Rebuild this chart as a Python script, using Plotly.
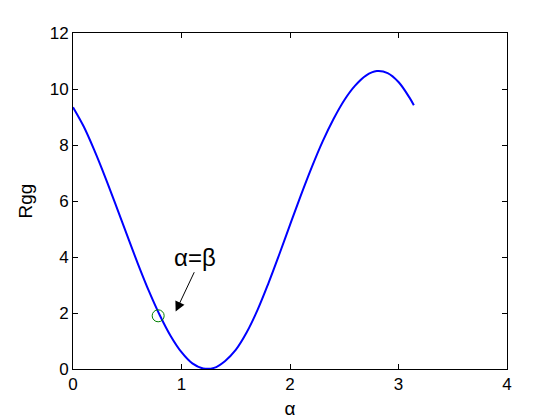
import plotly.graph_objects as go

# values
alpha = [0.0, 0.1, 0.2, 0.3, 0.4, 0.5, 0.6, 0.7, 0.8, 0.9, 1.0, 1.1, 1.2, 1.3,
         1.4, 1.5, 1.6, 1.7, 1.8, 1.9, 2.0, 2.1, 2.2, 2.3, 2.4, 2.5, 2.6, 2.7,
         2.8, 2.9, 3.0, 3.1, 3.1416]
rgg = [9.35, 8.65, 7.78, 6.82, 5.80, 4.76, 3.74, 2.78, 1.92, 1.18, 0.60, 0.20,
       0.02, 0.04, 0.28, 0.68, 1.30, 2.10, 3.05, 4.08, 5.15, 6.20, 7.20, 8.12,
       8.92, 9.60, 10.12, 10.48, 10.64, 10.57, 10.25, 9.70, 9.42]

# the alpha = beta point
mark_x = [0.785]
mark_y = [1.90]

font = "Liberation Sans, Arial, Helvetica, sans-serif"

fig = go.Figure()
fig.add_trace(go.Scatter(x=alpha, y=rgg, mode="lines",
                         line=dict(color="#0000ff", width=2, shape="spline"),
                         showlegend=False))
fig.add_trace(go.Scatter(x=mark_x, y=mark_y, mode="markers",
                         marker=dict(symbol="circle-open", size=12,
                                     color="#008000", line=dict(width=1)),
                         showlegend=False))

# arrow and label
fig.add_annotation(x=0.946, y=2.05, ax=1.124, ay=3.51, axref="x", ayref="y",
                   text="", showarrow=True, arrowhead=2, arrowsize=2,
                   arrowwidth=1, arrowcolor="black", standoff=0)
fig.add_annotation(x=1.12, y=4.0, text="α=β", showarrow=False,
                   font=dict(family=font, size=24, color="black"),
                   xanchor="center", yanchor="middle")

axis_common = dict(showline=True, linecolor="black", linewidth=1, mirror="ticks",
                   ticks="inside", ticklen=5, tickcolor="black", showgrid=False,
                   zeroline=False, automargin=False,
                   tickfont=dict(family=font, size=17, color="black"))

fig.update_xaxes(range=[0, 4], tickvals=[0, 1, 2, 3, 4],
                 title=dict(text="α", font=dict(family=font, size=19, color="black"),
                            standoff=8),
                 **axis_common)
fig.update_yaxes(range=[0, 12], tickvals=[0, 2, 4, 6, 8, 10, 12],
                 title=dict(text="Rgg", font=dict(family=font, size=19, color="black"),
                            standoff=12),
                 **axis_common)

fig.update_layout(width=560, height=420, plot_bgcolor="white", paper_bgcolor="white",
                  margin=dict(l=73, r=53, t=33, b=51))

# drop the browser's default body margin so the figure sits at the page corner
fig.write_html("out.html", config={"displayModeBar": False},
               post_script="document.body.style.margin='0';")
